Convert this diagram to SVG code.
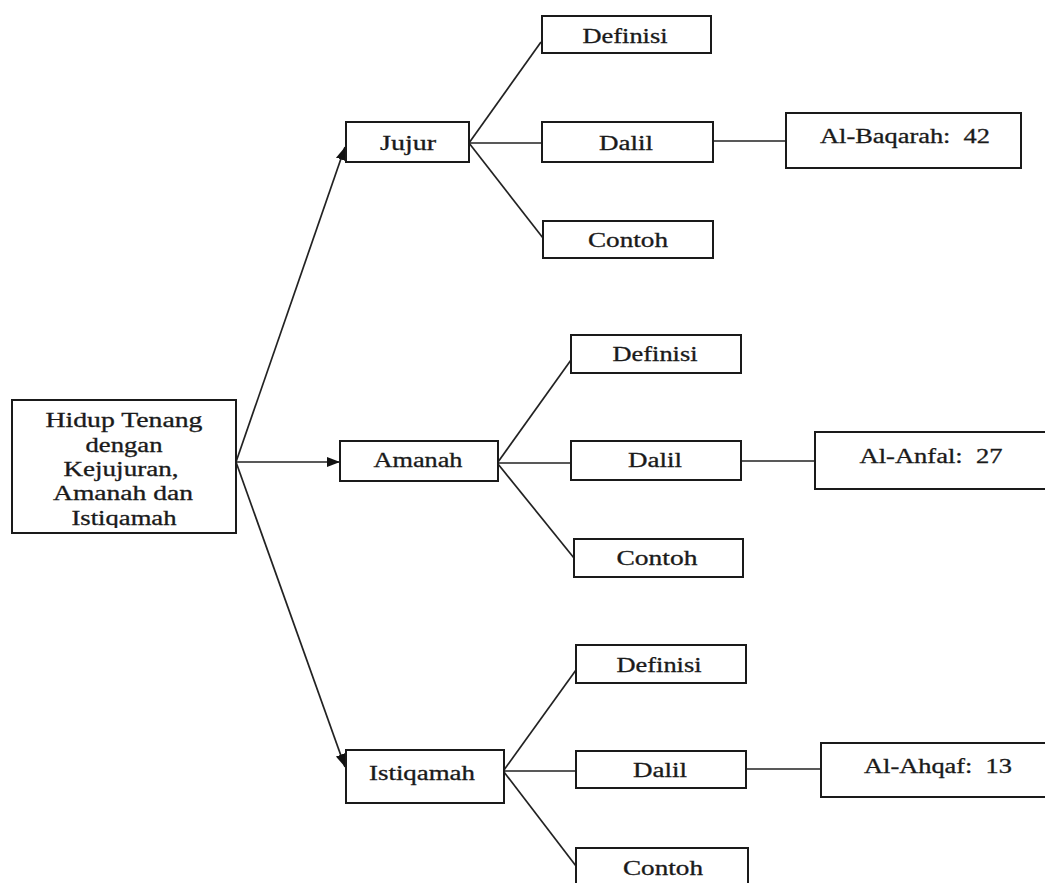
<svg xmlns="http://www.w3.org/2000/svg" width="1045" height="883" viewBox="0 0 1045 883">
  <style>
    .box { fill: #ffffff; stroke: #1a1a1a; stroke-width: 2; }
    .t { font-family: "Liberation Serif", "Times New Roman", serif; font-size: 20px; fill: #1a1a1a; stroke: #1a1a1a; stroke-width: 0.3; text-anchor: middle; }
    .ln { stroke: #222; stroke-width: 1.7; fill: none; }
  </style>
  <defs>
    <marker id="arr" markerUnits="userSpaceOnUse" markerWidth="14" markerHeight="12" refX="13" refY="5" orient="auto">
      <path d="M0,0 L13,5 L0,10 Z" fill="#111"/>
    </marker>
    <clipPath id="rootclip"><rect x="12" y="400" width="224" height="128"/></clipPath>
  </defs>
  <rect width="1045" height="883" fill="#ffffff"/>

  <g id="connectors">
    <line class="ln" x1="236" y1="462" x2="345" y2="147" marker-end="url(#arr)"/>
    <line class="ln" x1="236" y1="462" x2="340" y2="462" marker-end="url(#arr)"/>
    <line class="ln" x1="236" y1="462" x2="345" y2="767" marker-end="url(#arr)"/>

    <line class="ln" x1="469" y1="143" x2="541" y2="42"/>
    <line class="ln" x1="469" y1="143" x2="542" y2="143"/>
    <line class="ln" x1="469" y1="143" x2="543" y2="238"/>
    <line class="ln" x1="713" y1="141" x2="786" y2="141"/>

    <line class="ln" x1="498" y1="462" x2="571" y2="360"/>
    <line class="ln" x1="498" y1="463" x2="571" y2="463"/>
    <line class="ln" x1="498" y1="464" x2="574" y2="558"/>
    <line class="ln" x1="741" y1="461" x2="815" y2="461"/>

    <line class="ln" x1="504" y1="770" x2="576" y2="670"/>
    <line class="ln" x1="504" y1="771" x2="576" y2="771"/>
    <line class="ln" x1="504" y1="772" x2="576" y2="866"/>
    <line class="ln" x1="746" y1="769" x2="821" y2="769"/>
  </g>

  <g id="root">
    <rect class="box" x="12" y="400" width="224" height="133"/>
    <g clip-path="url(#rootclip)">
      <text class="t" x="124" y="427" textLength="157" lengthAdjust="spacingAndGlyphs">Hidup Tenang</text>
      <text class="t" x="124" y="452" textLength="77" lengthAdjust="spacingAndGlyphs">dengan</text>
      <text class="t" x="121" y="476" textLength="115" lengthAdjust="spacingAndGlyphs">Kejujuran,</text>
      <text class="t" x="123" y="500" textLength="140" lengthAdjust="spacingAndGlyphs">Amanah dan</text>
      <text class="t" x="124" y="525" textLength="105" lengthAdjust="spacingAndGlyphs">Istiqamah</text>
    </g>
  </g>

  <g id="jujur">
    <rect class="box" x="346" y="122" width="123" height="40"/>
    <text class="t" x="408" y="150" textLength="56" lengthAdjust="spacingAndGlyphs">Jujur</text>
  </g>
  <g id="jujur-definisi">
    <rect class="box" x="542" y="16" width="169" height="37"/>
    <text class="t" x="625" y="43" textLength="85" lengthAdjust="spacingAndGlyphs">Definisi</text>
  </g>
  <g id="jujur-dalil">
    <rect class="box" x="542" y="122" width="171" height="40"/>
    <text class="t" x="626" y="150" textLength="54" lengthAdjust="spacingAndGlyphs">Dalil</text>
  </g>
  <g id="jujur-contoh">
    <rect class="box" x="543" y="221" width="170" height="37"/>
    <text class="t" x="628" y="247" textLength="80" lengthAdjust="spacingAndGlyphs">Contoh</text>
  </g>
  <g id="al-baqarah">
    <rect class="box" x="786" y="113" width="235" height="55"/>
    <text class="t" x="905" y="143" textLength="170" lengthAdjust="spacingAndGlyphs" xml:space="preserve">Al-Baqarah:  42</text>
  </g>

  <g id="amanah">
    <rect class="box" x="340" y="441" width="158" height="40"/>
    <text class="t" x="418" y="467" textLength="89" lengthAdjust="spacingAndGlyphs">Amanah</text>
  </g>
  <g id="amanah-definisi">
    <rect class="box" x="571" y="335" width="170" height="38"/>
    <text class="t" x="655" y="361" textLength="85" lengthAdjust="spacingAndGlyphs">Definisi</text>
  </g>
  <g id="amanah-dalil">
    <rect class="box" x="571" y="441" width="170" height="39"/>
    <text class="t" x="655" y="467" textLength="54" lengthAdjust="spacingAndGlyphs">Dalil</text>
  </g>
  <g id="amanah-contoh">
    <rect class="box" x="574" y="539" width="169" height="38"/>
    <text class="t" x="657" y="565" textLength="81" lengthAdjust="spacingAndGlyphs">Contoh</text>
  </g>
  <g id="al-anfal">
    <rect class="box" x="815" y="432" width="240" height="57"/>
    <text class="t" x="931" y="463" textLength="143" lengthAdjust="spacingAndGlyphs" xml:space="preserve">Al-Anfal:  27</text>
  </g>

  <g id="istiqamah">
    <rect class="box" x="346" y="750" width="158" height="53"/>
    <text class="t" x="422" y="780" textLength="106" lengthAdjust="spacingAndGlyphs">Istiqamah</text>
  </g>
  <g id="istiqamah-definisi">
    <rect class="box" x="576" y="645" width="170" height="38"/>
    <text class="t" x="659" y="672" textLength="85" lengthAdjust="spacingAndGlyphs">Definisi</text>
  </g>
  <g id="istiqamah-dalil">
    <rect class="box" x="576" y="751" width="170" height="37"/>
    <text class="t" x="660" y="777" textLength="54" lengthAdjust="spacingAndGlyphs">Dalil</text>
  </g>
  <g id="istiqamah-contoh">
    <rect class="box" x="576" y="848" width="172" height="45"/>
    <text class="t" x="663" y="875" textLength="80" lengthAdjust="spacingAndGlyphs">Contoh</text>
  </g>
  <g id="al-ahqaf">
    <rect class="box" x="821" y="743" width="240" height="54"/>
    <text class="t" x="938" y="773" textLength="148" lengthAdjust="spacingAndGlyphs" xml:space="preserve">Al-Ahqaf:  13</text>
  </g>
</svg>
